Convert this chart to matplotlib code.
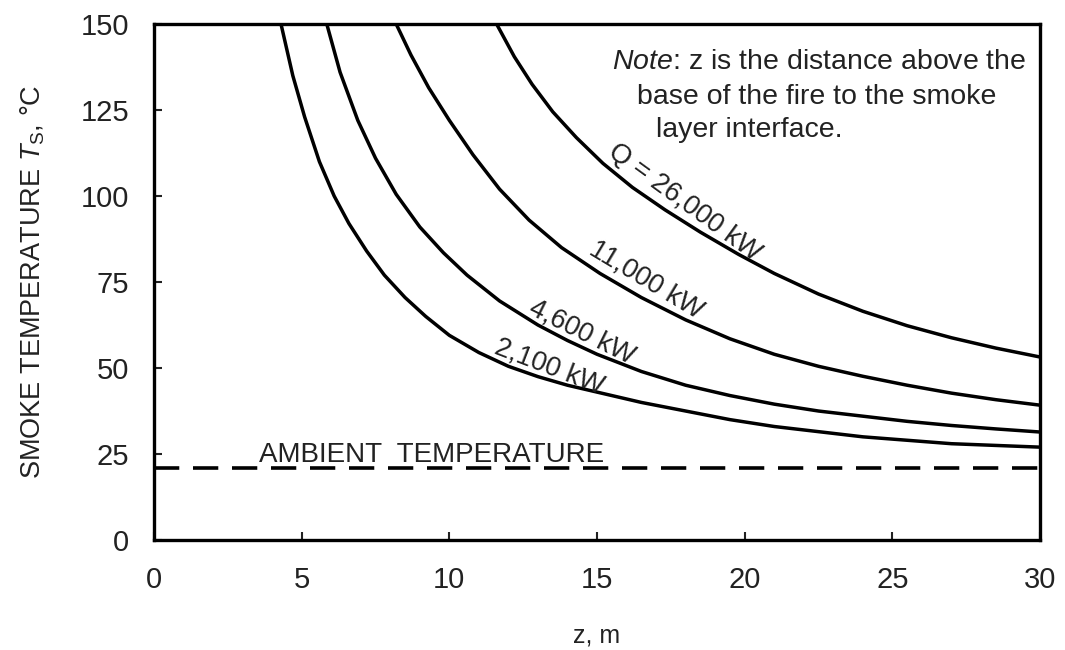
import matplotlib
matplotlib.use('Agg')
import matplotlib.pyplot as plt

plt.rcParams['font.family'] = ['Liberation Sans', 'DejaVu Sans']
plt.rcParams['mathtext.fontset'] = 'custom'
plt.rcParams['mathtext.rm'] = 'Liberation Sans'
plt.rcParams['mathtext.it'] = 'Liberation Sans:italic'

# 数据:z 为高度 (m),t 为烟气温度 (°C)
z_2100 = [4.3, 4.7, 5.1, 5.6, 6.1, 6.6, 7.2, 7.8, 8.5, 9.2, 10.0, 11.0, 12.0, 13.0,
          14.0, 15.0, 16.5, 18.0, 19.5, 21.0, 22.5, 24.0, 25.5, 27.0, 28.5, 30.0]
t_2100 = [150, 135, 123, 110, 100, 92, 84, 77, 70.5, 65, 59.5, 54.5, 50.5, 47.5,
          45, 43, 40, 37.5, 35, 33, 31.5, 30, 29, 28, 27.5, 27.0]

z_4600 = [5.85, 6.3, 6.9, 7.5, 8.2, 9.0, 9.8, 10.6, 11.7, 13.0, 14.0, 15.0, 16.5,
          18.0, 19.5, 21.0, 22.5, 24.0, 25.5, 27.0, 28.5, 30.0]
t_4600 = [150, 136, 122, 111, 100.5, 91, 83.5, 77, 69.5, 62.5, 58, 54, 49,
          45, 42, 39.5, 37.5, 36, 34.5, 33.3, 32.3, 31.4]

z_11000 = [8.2, 8.7, 9.3, 10.0, 10.8, 11.7, 12.7, 13.8, 15.1, 16.5, 18.0, 19.5,
           21.0, 22.5, 24.0, 25.5, 27.0, 28.5, 30.0]
t_11000 = [150, 141, 131.5, 122, 112, 102, 93, 85, 77.5, 70.5, 64, 58.5,
           54, 50.5, 47.6, 45, 42.7, 40.8, 39.2]

z_26000 = [11.6, 12.2, 12.8, 13.5, 14.3, 15.2, 16.2, 17.3, 18.5, 19.8, 21.0,
           22.5, 24.0, 25.5, 27.0, 28.5, 30.0]
t_26000 = [150, 140.5, 132.5, 124.5, 117, 109.5, 102.5, 96, 89.5, 83, 77.5,
           71.5, 66.5, 62.3, 58.8, 55.8, 53.2]

ambient = 21

curves = [(z_2100, t_2100), (z_4600, t_4600), (z_11000, t_11000), (z_26000, t_26000)]

fig = plt.figure(figsize=(10.65, 6.5), dpi=100)
ax = fig.add_axes([0.1446, 0.1692, 0.832, 0.7938])

for zs, ts in curves:
    ax.plot(zs, ts, color='black', linewidth=2.5, solid_joinstyle='round')

ax.axhline(ambient, color='black', linewidth=2.6, dashes=(7, 3.8))

ax.set_xlim(0, 30)
ax.set_ylim(0, 150)
ax.set_xticks(range(0, 31, 5))
ax.set_yticks(range(0, 151, 25))
ax.tick_params(direction='in', length=6, width=1.5, labelsize=21, pad=18, colors='#222222')
ax.tick_params(axis='x', pad=19)
for s in ax.spines.values():
    s.set_linewidth(2.4)

ax.set_xlabel('z, m', fontsize=18, labelpad=21, color='#222222')
ax.set_ylabel(r'SMOKE TEMPERATURE $\mathit{T}_{\mathrm{S}}$, °C', fontsize=19.5,
              labelpad=24, color='#222222')

# 曲线标注
lab_kw = dict(fontsize=19.5, color='#222222', ha='center', va='center', rotation_mode='anchor')
ax.text(17.95, 98.0, 'Q = 26,000 kW', rotation=-36, **lab_kw)
ax.text(16.65, 75.6, '11,000 kW', rotation=-31, **lab_kw)
ax.text(14.5, 60.5, '4,600 kW', rotation=-26.5, **lab_kw)
ax.text(13.4, 50.3, '2,100 kW', rotation=-21, **lab_kw)
ax.text(9.4, 22.6, 'AMBIENT  TEMPERATURE', fontsize=20, color='#222222',
        ha='center', va='baseline')

note_kw = dict(fontsize=20.5, color='#222222', ha='left', va='baseline')
ax.text(15.5, 136.8, r'$\mathit{Note}$: z is the distance above the', **note_kw)
ax.text(16.35, 126.9, 'base of the fire to the smoke', **note_kw)
ax.text(17.0, 117.3, 'layer interface.', **note_kw)

fig.savefig('out.png', dpi=100)
